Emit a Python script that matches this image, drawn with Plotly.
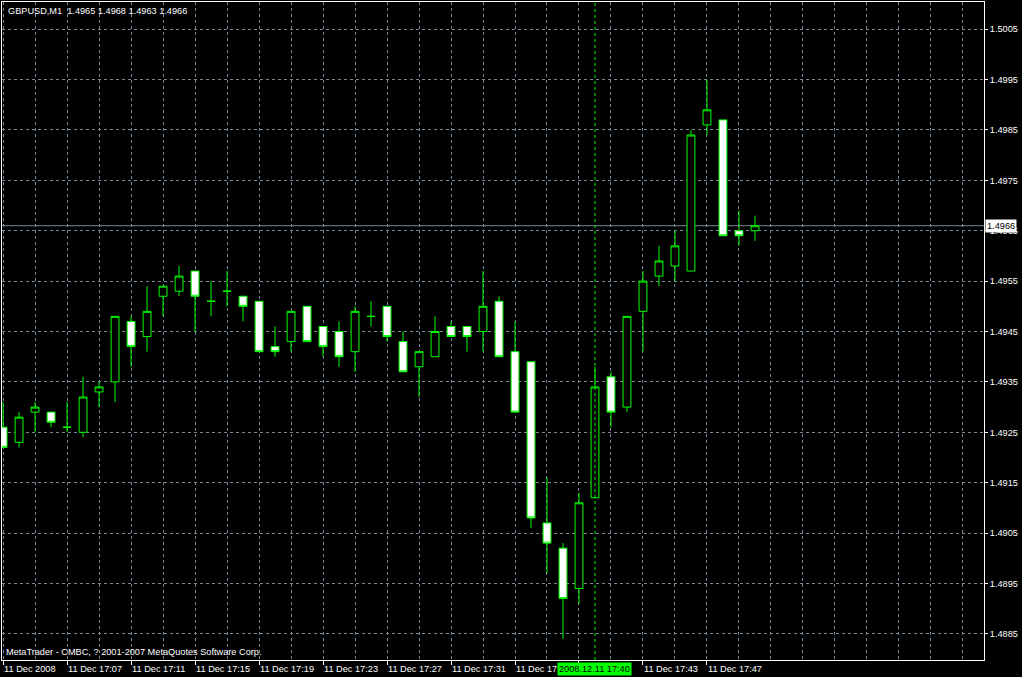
import plotly.graph_objects as go
from datetime import datetime, timedelta

# ---------------- data ----------------
times = ["17:03", "17:04", "17:05", "17:06", "17:07", "17:08", "17:09", "17:10",
         "17:11", "17:12", "17:13", "17:14", "17:15", "17:16", "17:17", "17:18",
         "17:19", "17:20", "17:21", "17:22", "17:23", "17:24", "17:25", "17:26",
         "17:27", "17:28", "17:29", "17:30", "17:31", "17:32", "17:33", "17:34",
         "17:35", "17:36", "17:37", "17:38", "17:39", "17:40", "17:41", "17:42",
         "17:43", "17:44", "17:45", "17:46", "17:47", "17:48", "17:49", "17:50"]

opens = [1.4926, 1.4923, 1.4929, 1.4929, 1.4926, 1.4925, 1.4933, 1.4935,
         1.4947, 1.4944, 1.4952, 1.4953, 1.4957, 1.4951, 1.4953, 1.4952,
         1.4951, 1.4942, 1.4943, 1.4950, 1.4946, 1.4945, 1.4941, 1.4948,
         1.4950, 1.4943, 1.4938, 1.4940, 1.4946, 1.4946, 1.4945, 1.4951,
         1.4941, 1.4939, 1.4907, 1.4902, 1.4894, 1.4912, 1.4936, 1.4930,
         1.4949, 1.4956, 1.4958, 1.4957, 1.4986, 1.4987, 1.4965, 1.4965]

highs = [1.4931, 1.4929, 1.4931, 1.4929, 1.4931, 1.4936, 1.4935, 1.4948,
         1.4948, 1.4954, 1.4954, 1.4958, 1.4957, 1.4955, 1.4957, 1.4952,
         1.4951, 1.4946, 1.4949, 1.4950, 1.4946, 1.4947, 1.4950, 1.4951,
         1.4950, 1.4945, 1.4941, 1.4948, 1.4947, 1.4946, 1.4957, 1.4952,
         1.4947, 1.4939, 1.4916, 1.4903, 1.4913, 1.4938, 1.4937, 1.4948,
         1.4957, 1.4962, 1.4965, 1.4985, 1.4995, 1.4987, 1.4969, 1.4968]

lows = [1.4922, 1.4922, 1.4925, 1.4926, 1.4925, 1.4924, 1.4930, 1.4931,
        1.4938, 1.4941, 1.4948, 1.4952, 1.4945, 1.4948, 1.4950, 1.4947,
        1.4941, 1.4940, 1.4941, 1.4943, 1.4940, 1.4938, 1.4937, 1.4946,
        1.4943, 1.4937, 1.4932, 1.4940, 1.4944, 1.4941, 1.4941, 1.4940,
        1.4929, 1.4906, 1.4897, 1.4884, 1.4891, 1.4912, 1.4926, 1.4929,
        1.4941, 1.4954, 1.4955, 1.4957, 1.4984, 1.4964, 1.4962, 1.4963]

closes = [1.4922, 1.4928, 1.4930, 1.4927, 1.4926, 1.4932, 1.4934, 1.4948,
          1.4942, 1.4949, 1.4954, 1.4956, 1.4952, 1.4951, 1.4953, 1.4950,
          1.4941, 1.4941, 1.4949, 1.4943, 1.4942, 1.4940, 1.4949, 1.4948,
          1.4944, 1.4937, 1.4941, 1.4945, 1.4944, 1.4944, 1.4950, 1.4940,
          1.4929, 1.4908, 1.4903, 1.4892, 1.4911, 1.4934, 1.4929, 1.4948,
          1.4955, 1.4959, 1.4962, 1.4984, 1.4989, 1.4964, 1.4964, 1.4966]

date_str = "2008-12-11"
price_ticks = [1.4885, 1.4895, 1.4905, 1.4915, 1.4925, 1.4935, 1.4945,
               1.4955, 1.4965, 1.4975, 1.4985, 1.4995, 1.5005]
time_ticks = ["17:03", "17:07", "17:11", "17:15", "17:19", "17:23", "17:27",
              "17:31", "17:35", "17:39", "17:43", "17:47"]
# 17:35 is partly and 17:39 fully hidden behind the cursor time label
time_tick_text = ["11 Dec 2008", "11 Dec 17:07", "11 Dec 17:11", "11 Dec 17:15",
                  "11 Dec 17:19", "11 Dec 17:23", "11 Dec 17:27", "11 Dec 17:31",
                  "11 Dec 17", "", "11 Dec 17:43", "11 Dec 17:47"]
grid_start, grid_end = "17:03", "18:03"
title_text = "GBPUSD,M1  1.4965 1.4968 1.4963 1.4966"
footer_text = "MetaTrader - CMBC, ? 2001-2007 MetaQuotes Software Corp."
current_price = 1.4966
cursor_time = "17:40"
cursor_label = "2008.12.11 17:40"
x_range = ["17:02:56", "18:04:19"]
y_range = [1.48798, 1.50104]

# ---------------- helpers ----------------
def ts(hm):
    return f"{date_str} {hm}" if len(hm) > 5 else f"{date_str} {hm}:00"

x_vals = [ts(t) for t in times]
g0 = datetime.strptime(ts(grid_start), "%Y-%m-%d %H:%M:%S")
g1 = datetime.strptime(ts(grid_end), "%Y-%m-%d %H:%M:%S")
minor_vals = []
g = g0
while g <= g1:
    minor_vals.append(g.strftime("%Y-%m-%d %H:%M:%S"))
    g += timedelta(minutes=2)

GREEN = "#00FF00"
GRID = "#778899"
FONT = "Liberation Sans"
FS = 9.2

fig = go.Figure()
fig.add_trace(go.Candlestick(
    x=x_vals, open=opens, high=highs, low=lows, close=closes,
    increasing=dict(fillcolor="#000000", line=dict(color=GREEN, width=1)),
    decreasing=dict(fillcolor="#FFFFFF", line=dict(color=GREEN, width=1)),
    whiskerwidth=0, showlegend=False, hoverinfo="skip",
))

# current price line
fig.add_shape(type="line", xref="paper", x0=0, x1=1, yref="y",
              y0=current_price, y1=current_price,
              line=dict(color=GRID, width=1), layer="below")
# cursor vertical dashed line
fig.add_shape(type="line", xref="x", x0=ts(cursor_time), x1=ts(cursor_time),
              yref="paper", y0=0, y1=1,
              line=dict(color=GREEN, width=1, dash="3px,3px"), layer="above")

fig.add_annotation(text=title_text, xref="paper", yref="paper", x=0, y=1,
                   xanchor="left", yanchor="top", xshift=4, yshift=-2,
                   showarrow=False, font=dict(family=FONT, size=FS, color="#FFFFFF"))
fig.add_annotation(text=footer_text, xref="paper", yref="paper", x=0, y=0,
                   xanchor="left", yanchor="bottom", xshift=2, yshift=1,
                   showarrow=False, font=dict(family=FONT, size=FS, color="#FFFFFF"))
fig.add_annotation(text=current_price.__format__(".4f"), xref="paper", yref="y",
                   x=1, y=current_price, xanchor="left", yanchor="middle", xshift=1,
                   showarrow=False, bgcolor="#FFFFFF", borderpad=1,
                   font=dict(family=FONT, size=FS, color="#000000"))
fig.add_annotation(text=cursor_label, xref="x", yref="paper",
                   x=ts(cursor_time), y=0, xanchor="center", yanchor="top", yshift=-2,
                   showarrow=False, bgcolor=GREEN, borderpad=1,
                   font=dict(family=FONT, size=FS, color="#000000"))

fig.update_layout(
    width=1022, height=677,
    margin=dict(l=2, r=38, t=2, b=17),
    paper_bgcolor="#000000", plot_bgcolor="#000000",
    font=dict(family=FONT, size=FS, color="#FFFFFF"),
    showlegend=False,
    xaxis=dict(
        type="date", range=[ts(x_range[0]), ts(x_range[1])],
        rangeslider=dict(visible=False), automargin=False,
        tickmode="array", tickvals=[ts(t) for t in time_ticks], ticktext=time_tick_text,
        tickangle=0,
        ticks="outside", ticklen=4, tickcolor="#FFFFFF", tickwidth=1,
        ticklabelposition="outside right",
        showgrid=True, gridcolor=GRID, griddash="3px,3px", gridwidth=1,
        minor=dict(tickmode="array", tickvals=minor_vals, showgrid=True,
                   gridcolor=GRID, griddash="3px,3px", gridwidth=1, ticks=""),
        showline=True, linecolor="#FFFFFF", linewidth=1, mirror=True,
        zeroline=False, fixedrange=True,
        tickfont=dict(family=FONT, size=FS, color="#FFFFFF"),
    ),
    yaxis=dict(
        side="right", range=y_range, automargin=False,
        tickmode="array", tickvals=price_ticks,
        ticktext=[f"{p:.4f}" for p in price_ticks],
        ticks="outside", ticklen=3, tickcolor="#FFFFFF", tickwidth=1,
        showgrid=True, gridcolor=GRID, griddash="3px,3px", gridwidth=1,
        showline=True, linecolor="#FFFFFF", linewidth=1, mirror=True,
        zeroline=False, fixedrange=True,
        tickfont=dict(family=FONT, size=FS, color="#FFFFFF"),
    ),
)

fig.write_html(
    "out.html",
    config={"displayModeBar": False},
    post_script="document.body.style.margin='0';document.body.style.overflow='hidden';document.body.style.background='#000';",
)
